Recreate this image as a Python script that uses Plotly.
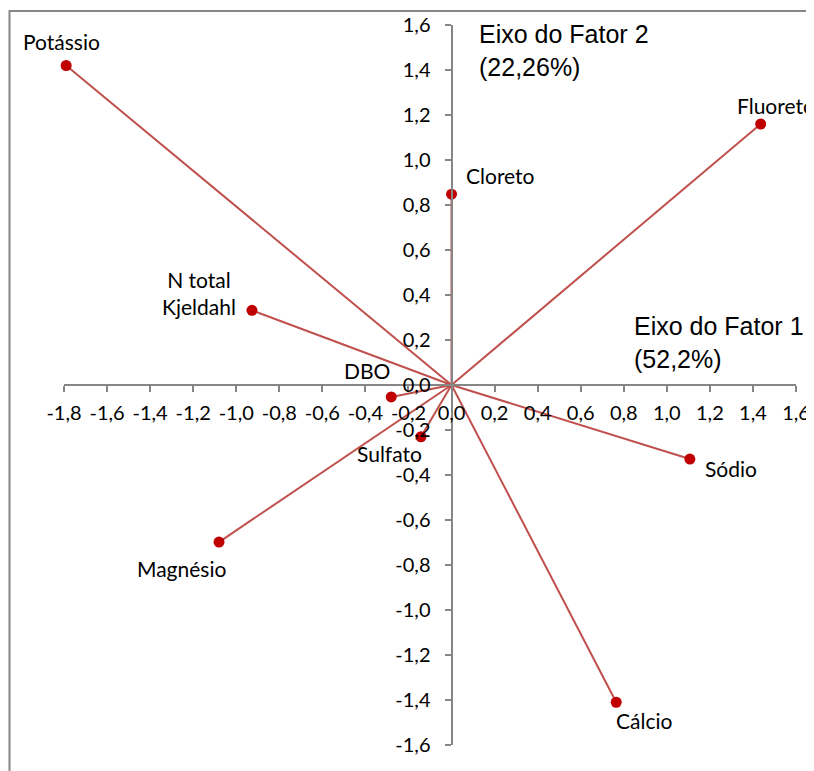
import plotly.graph_objects as go

names = ["Potássio", "Fluoreto", "Cloreto", "N total<br>Kjeldahl", "DBO",
         "Sulfato", "Sódio", "Magnésio", "Cálcio"]
factor1 = [-1.79, 1.436, 0.0, -0.927, -0.28, -0.142, 1.107, -1.08, 0.765]
factor2 = [1.42, 1.16, 0.848, 0.332, -0.053, -0.23, -0.329, -0.698, -1.41]

tick_vals = [-1.8, -1.6, -1.4, -1.2, -1.0, -0.8, -0.6, -0.4, -0.2, 0.0,
             0.2, 0.4, 0.6, 0.8, 1.0, 1.2, 1.4, 1.6]
tick_text = ["-1,8", "-1,6", "-1,4", "-1,2", "-1,0", "-0,8", "-0,6", "-0,4", "-0,2",
             "0,0", "0,2", "0,4", "0,6", "0,8", "1,0", "1,2", "1,4", "1,6"]
ytick_vals = tick_vals[1:]
ytick_text = tick_text[1:]

# label placement (pixel offsets from each point): xanchor, xshift, yshift
label_style = [
    ("center", -5, 24),
    ("left", -26, 19),
    ("left", 12, 19),
    ("right", -14, 17),
    ("center", -24, 26),
    ("center", -31, -17),
    ("left", 13, -9),
    ("center", -38, -26),
    ("left", -2, -18),
]

LINE = "#C0504D"
MARK = "#C00000"
AXC = "#868686"
FONT = "Lato, Carlito, Calibri, sans-serif"

fig = go.Figure()
for n, x, y in zip(names, factor1, factor2):
    fig.add_trace(go.Scatter(x=[0, x], y=[0, y], mode="lines",
                             line=dict(color=LINE, width=2), hoverinfo="skip",
                             showlegend=False, cliponaxis=False))
fig.add_trace(go.Scatter(x=factor1, y=factor2, mode="markers",
                         marker=dict(color=MARK, size=11), cliponaxis=False,
                         showlegend=False, text=names))

for n, x, y, (xa, xs, ys) in zip(names, factor1, factor2, label_style):
    fig.add_annotation(x=x, y=y, text=n, showarrow=False, xanchor=xa,
                       yanchor="middle", xshift=xs, yshift=ys, align="center",
                       font=dict(family=FONT, size=21, color="black"))

fig.add_annotation(x=0.12, y=1.487, text="Eixo do Fator 2<br>(22,26%)",
                   showarrow=False, xanchor="left", yanchor="middle", align="left",
                   font=dict(family="Liberation Sans, Arial", size=25, color="black"))
fig.add_annotation(x=0.838, y=0.187, text="Eixo do Fator 1<br>(52,2%)",
                   showarrow=False, xanchor="left", yanchor="middle", align="left",
                   font=dict(family="Liberation Sans, Arial", size=25, color="black"))

# page body has an 8px default margin: figure is 806x763 so that it fills 814x771
OFF = 8
W, H = 814 - OFF, 771 - OFF
L, R, T, B = 64 - OFF, 18, 25 - OFF, 26
pw = W - L - R
ph = H - T - B
fig.add_shape(type="rect", xref="paper", yref="paper",
              x0=(9.5 - OFF - L) / pw, x1=1.2, y0=-0.2, y1=(H - B - (11 - OFF)) / ph,
              line=dict(color=AXC, width=2), layer="below")

fig.update_layout(
    width=W, height=H,
    margin=dict(l=L, r=R, t=T, b=B, autoexpand=False),
    plot_bgcolor="white", paper_bgcolor="white",
    showlegend=False,
    xaxis=dict(range=[-1.8, 1.6], anchor="free", position=0.5, automargin=False,
               tickvals=tick_vals, ticktext=tick_text,
               showline=True, linecolor=AXC, linewidth=2,
               ticks="outside", ticklen=6, tickcolor=AXC, tickwidth=2,
               ticklabelstandoff=4,
               showgrid=False, zeroline=False,
               tickfont=dict(family=FONT, size=20, color="black")),
    yaxis=dict(range=[-1.6, 1.6], anchor="free", position=1.8 / 3.4, automargin=False,
               tickvals=ytick_vals, ticktext=ytick_text,
               showline=True, linecolor=AXC, linewidth=2,
               ticks="outside", ticklen=6, tickcolor=AXC, tickwidth=2,
               ticklabelstandoff=10,
               showgrid=False, zeroline=False,
               tickfont=dict(family=FONT, size=20, color="black")),
)

fig.write_html("out.html")
